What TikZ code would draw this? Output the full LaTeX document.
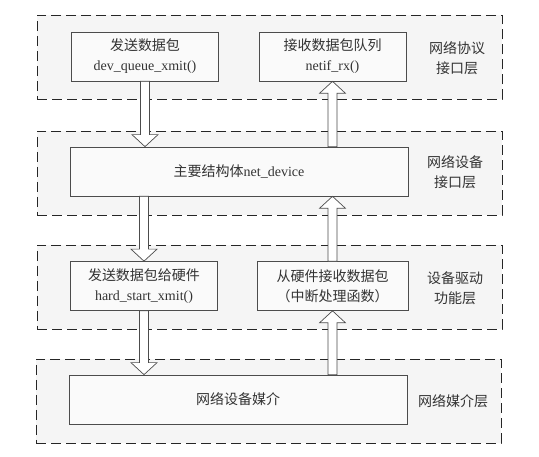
\documentclass[tikz,border=0pt]{standalone}
\usepackage{fontspec}
\setmainfont{Liberation Serif}
\newfontfamily\cjk{Noto Sans CJK SC}
\usetikzlibrary{calc}

\tikzset{
    layer/.style={draw=black!85, dash pattern=on 10pt off 5pt, line width=0.9pt, fill=black!4, minimum width=465pt, minimum height=84pt, inner sep=0pt},
    func/.style={draw=black!70, line width=0.7pt, fill=black!2, minimum width=147pt, minimum height=49pt, inner sep=0pt, align=center, text=black!80, font=\fontsize{14}{20}\selectfont},
    wide/.style={func, minimum width=338pt},
    tag/.style={align=center, text=black!80, font=\fontsize{14}{20}\selectfont\cjk},
    hollow/.style={draw=black!70, line width=0.7pt, fill=white,
        to path={let \p1=(\tikztostart), \p2=(\tikztotarget), \n1={(\y2>\y1)*2-1} in
            (\x1-4.5pt,\y1) -- (\x2-4.5pt,\y2-\n1*12pt) -- (\x2-13pt,\y2-\n1*12pt) -- (\x2,\y2)
            -- (\x2+13pt,\y2-\n1*12pt) -- (\x2+4.5pt,\y2-\n1*12pt) -- (\x1+4.5pt,\y1) -- cycle}}
}

\begin{document}
\begin{tikzpicture}[x=1pt,y=-1pt]
        \useasboundingbox (0,0) rectangle (539,457);
        \node[layer] (proto) at (269.5,57.5){};
        \node[layer] (devif) at (269.5,173){};
        \node[layer] (drv) at (269.5,287){};
        \node[layer] (media) at (268.5,401){};
        \node[func] (send) at (145,56.5){{\cjk 发送数据包}\\dev\_queue\_xmit()};
        \node[func] (recv) at (332.5,56.5){{\cjk 接收数据包队列}\\netif\_rx()};
        \node[wide] (netdev) at (239,171.5){{\cjk 主要结构体}net\_device};
        \node[func] (hwsend) at (144,286){{\cjk 发送数据包给硬件}\\hard\_start\_xmit()};
        \node[func, minimum width=151pt] (hwrecv) at (332.5,286){{\cjk 从硬件接收数据包}\\{\cjk （中断处理函数）}};
        \node[wide] (medium) at (238,399.5){\cjk 网络设备媒介};
        \node[tag] (protolbl) at (457,58){网络协议\\接口层};
        \node[tag] (devlbl) at (455,172){网络设备\\接口层};
        \node[tag] (drvlbl) at (455,288){设备驱动\\功能层};
        \node[tag] (medlbl) at (453,401){网络媒介层};
        \draw[hollow] (send.south) to (send.south |- netdev.north);
        \draw[hollow] (netdev.north -| recv.south) to (recv.south);
        \draw[hollow] (hwsend.north |- netdev.south) to (hwsend.north);
        \draw[hollow] (hwrecv.north) to (hwrecv.north |- netdev.south);
        \draw[hollow] (hwsend.south) to (hwsend.south |- medium.north);
        \draw[hollow] (medium.north -| hwrecv.south) to (hwrecv.south);
    \end{tikzpicture}
\end{document}
